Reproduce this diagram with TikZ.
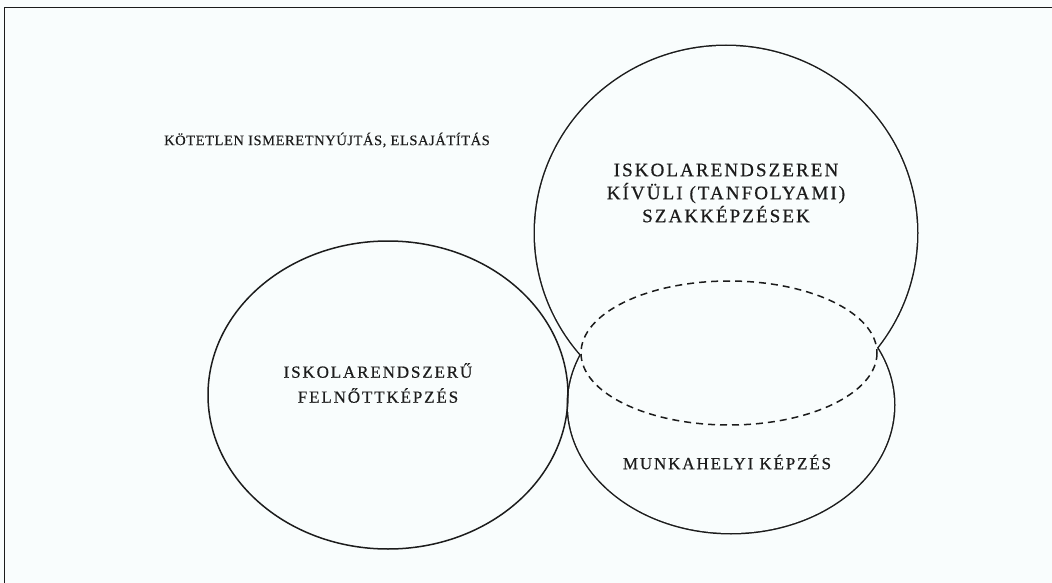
\documentclass[tikz,border=0pt]{standalone}
\usepackage{fontspec}
\setmainfont{Liberation Serif}
\newfontfamily\capfont[LetterSpace=11,FakeBold=0.6]{Liberation Serif}
\newfontfamily\smallcapfont[LetterSpace=4,FakeBold=0.4]{Liberation Serif}
\definecolor{paper}{rgb}{0.976,0.992,0.992}
\definecolor{ink}{rgb}{0.11,0.11,0.11}
\begin{document}
\begin{tikzpicture}[x=1pt,y=-1pt,
  outline/.style={draw=ink,line width=1.5pt},
  smallcap/.style={font=\smallcapfont\fontsize{14.5}{16}\selectfont,text=ink,inner sep=0pt},
  bigcap/.style={font=\capfont\fontsize{19}{23}\selectfont,text=ink,align=center,inner sep=0pt},
  midcap/.style={font=\capfont\fontsize{17}{25}\selectfont,text=ink,align=center,inner sep=0pt}]
  \useasboundingbox[fill=paper] (0,0) rectangle (1052,583);

  % page frame
  \draw[ink,line width=1pt] (4,583) -- (4,8) -- (1052,8);

  % outer line of the two joined shapes
  \draw[ink,line width=3pt] (726,233) ellipse [x radius=191,y radius=187];
  \draw[ink,line width=3pt] (731,405) ellipse [x radius=163,y radius=128];
  \fill[paper] (726,233) ellipse [x radius=191,y radius=187];
  \fill[paper] (731,405) ellipse [x radius=163,y radius=128];

  % left circle
  \draw[outline] (388,395) ellipse [x radius=180,y radius=154];

  % overlap
  \draw[ink,line width=1.5pt,dash pattern=on 7pt off 5pt] (729,353) ellipse [x radius=148,y radius=72];

  % labels
  \node[smallcap] (kotetlen) at (327,140) {KÖTETLEN ISMERETNYÚJTÁS, ELSAJÁTÍTÁS};
  \node[bigcap] (tanfolyam) at (726,193) {ISKOLARENDSZEREN\\KÍVÜLI (TANFOLYAMI)\\SZAKKÉPZÉSEK};
  \node[midcap] (felnott) at (378,383) {ISKOLARENDSZERŰ\\FELNŐTTKÉPZÉS};
  \node[midcap] (munkahely) at (727,462) {MUNKAHELYI KÉPZÉS};
\end{tikzpicture}
\end{document}
